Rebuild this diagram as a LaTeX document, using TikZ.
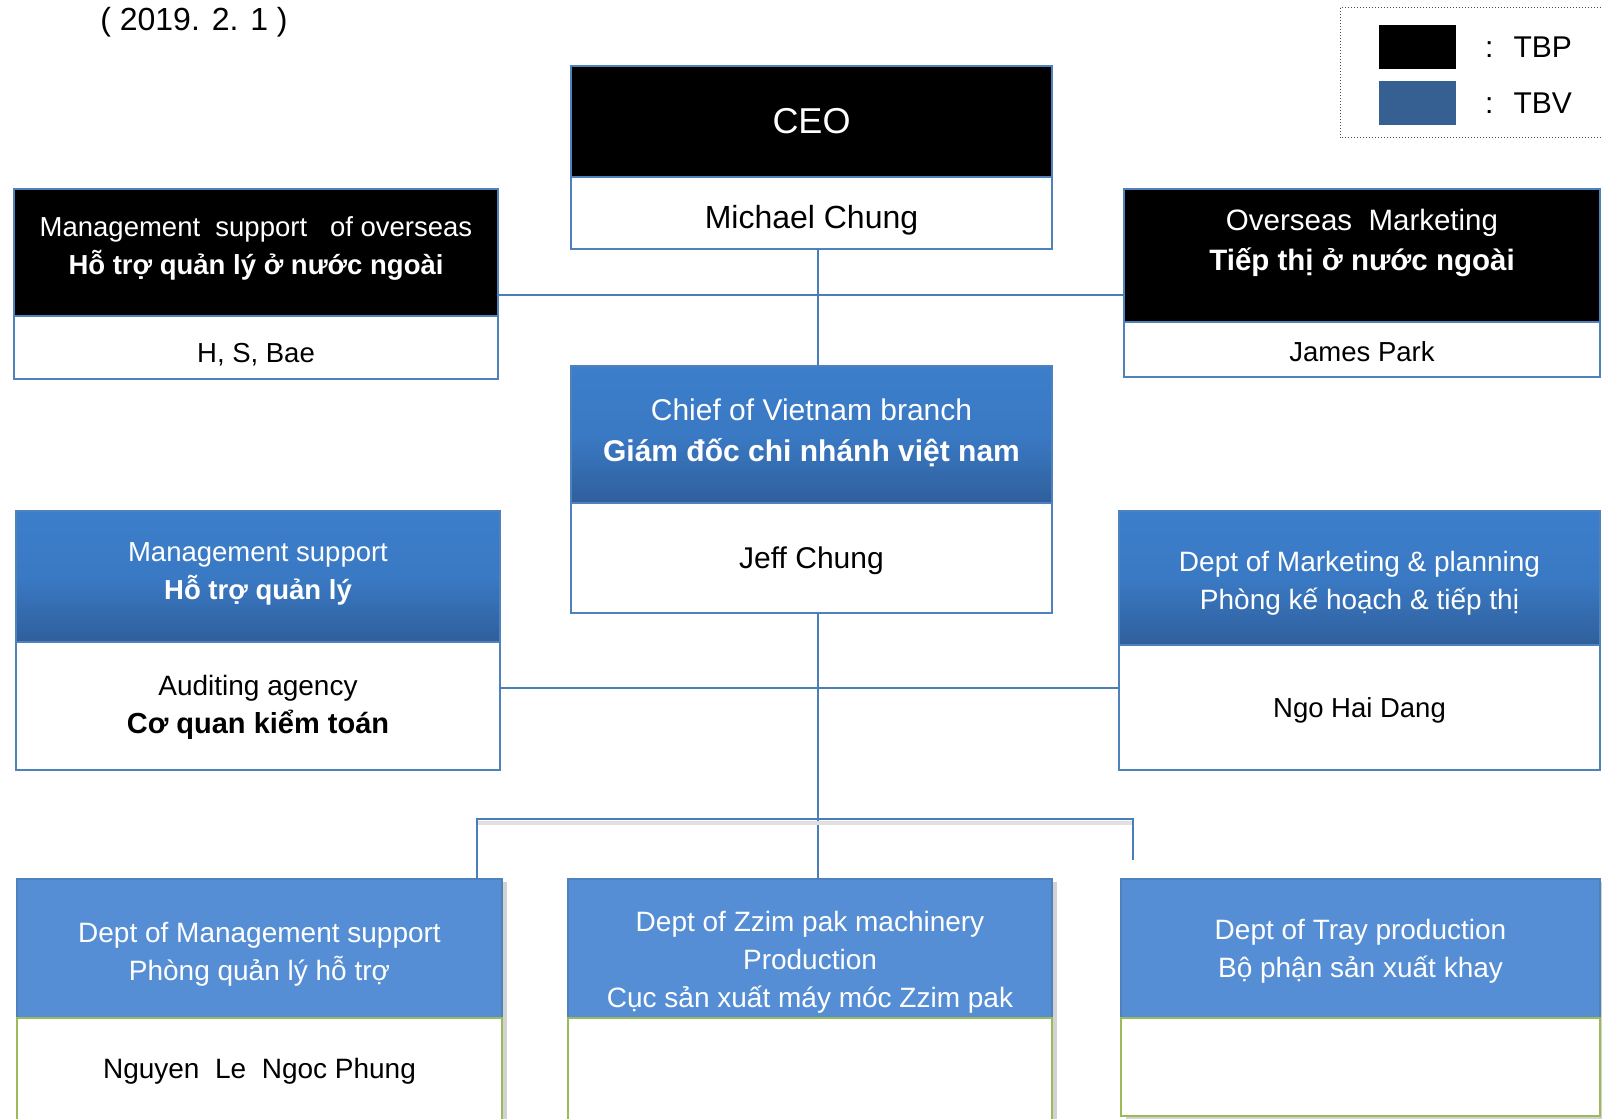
\documentclass[tikz,border=0pt]{standalone}
\usepackage{fontspec}
\setmainfont{Liberation Sans}
\usetikzlibrary{positioning,shadows}

\definecolor{frameblue}{HTML}{4F81BD}
\definecolor{lineblue}{HTML}{4A7EBB}
\definecolor{tbvtop}{HTML}{3C7ECB}
\definecolor{tbvbot}{HTML}{2F5F9C}
\definecolor{deptblue}{HTML}{558ED5}
\definecolor{legblue}{HTML}{376092}
\definecolor{namegreen}{HTML}{9BBB59}

\newcommand{\fsz}[1]{\fontsize{#1}{1.36\dimexpr#1pt\relax}\selectfont}
% text block, moved down by #1 pt inside its box
\newcommand{\vtxt}[2]{%
  \ifdim#1pt>0pt\rule{0pt}{\dimexpr1.05em+#1pt+#1pt\relax}\else\rule{0pt}{1.05em}\fi
  #2%
  \ifdim#1pt<0pt\rule[\dimexpr-0.33em+#1pt+#1pt\relax]{0pt}{\dimexpr0.33em-#1pt-#1pt\relax}\else\rule[-0.33em]{0pt}{0.33em}\fi}

\tikzset{
  box/.style 2 args={draw=frameblue, line width=2.2pt, anchor=north west,
    inner sep=0pt, outer sep=0pt, align=center,
    minimum width=#1pt, minimum height=#2pt},
  tbpbox/.style 2 args={box={#1}{#2}, fill=black, text=white},
  tbvbox/.style 2 args={box={#1}{#2}, top color=tbvtop, bottom color=tbvbot,
    middle color=tbvtop!85!tbvbot, text=white},
  deptbox/.style 2 args={box={#1}{#2}, fill=deptblue, text=white,
    drop shadow={shadow xshift=5pt, shadow yshift=-3pt, opacity=.35}},
  namebox/.style 2 args={box={#1}{#2}, fill=white, text=black},
  crewbox/.style 2 args={box={#1}{#2}, draw=namegreen, fill=white, text=black,
    drop shadow={shadow xshift=5pt, shadow yshift=-3pt, opacity=.35}},
  link/.style={draw=lineblue, line width=1.8pt},
  swatch/.style={anchor=north west, inner sep=0pt, outer sep=0pt,
    minimum width=77pt, minimum height=44pt}
}

\begin{document}
\begin{tikzpicture}[x=1pt,y=-1pt]
  \fill[white] (0,0) rectangle (1602,1118);
  \useasboundingbox (0,0) rectangle (1602,1118);

  % date
  \node[inner sep=0pt, font=\fsz{32}] (date) at (194,18.5) {\vtxt{0}{( 2019. 2. 1 )}};

  % legend
  \draw[dotted, line width=1pt, black!70] (1340,8) rectangle (1612,138);
  \node[swatch, fill=black] (tbpkey) at (1379,25) {};
  \node[swatch, fill=legblue] (tbvkey) at (1379,81) {};
  \node[right=29pt of tbpkey, inner sep=0pt, font=\fsz{30}] (tbplabel) {:\hspace{20pt}TBP};
  \node[right=29pt of tbvkey, inner sep=0pt, font=\fsz{30}] (tbvlabel) {:\hspace{20pt}TBV};

  % head office
  \node[tbpbox={481}{111}, font=\fsz{36}] (ceo) at (571,66) {\vtxt{-1}{CEO}};
  \node[namebox={481}{72}, below=0pt of ceo, font=\fsz{32}] (ceoname) {\vtxt{3.5}{Michael Chung}};

  \node[tbpbox={484}{127}, font=\fsz{27.5}] (ovm) at (14,189)
    {\vtxt{-7}{Management\ \ support\ \ \ of overseas\\\textbf{Hỗ trợ quản lý ở nước ngoài}}};
  \node[namebox={484}{63}, below=0pt of ovm, font=\fsz{27.5}] (ovmname) {\vtxt{5}{H, S, Bae}};

  \node[tbpbox={476}{133}, font=\fsz{29.5}] (ovk) at (1124,189)
    {\vtxt{-16}{Overseas\ \ Marketing\\\textbf{Tiếp thị ở nước ngoài}}};
  \node[namebox={476}{55}, below=0pt of ovk, font=\fsz{27.5}] (ovkname) {\vtxt{2}{James Park}};

  % vietnam branch
  \node[tbvbox={481}{137}, font=\fsz{30}] (chief) at (571,366)
    {\vtxt{-4.5}{Chief of Vietnam branch\\\textbf{Giám đốc chi nhánh việt nam}}};
  \node[namebox={481}{110}, below=0pt of chief, font=\fsz{30}] (chiefname) {\vtxt{0}{Jeff Chung}};

  \node[tbvbox={484}{131}, font=\fsz{27.5}] (mgs) at (16,511)
    {\vtxt{-6}{Management support\\\textbf{Hỗ trợ quản lý}}};
  \node[namebox={484}{128}, below=0pt of mgs, font=\fsz{28}] (mgsname)
    {\vtxt{-2}{Auditing agency\\\textbf{\fsz{29}Cơ quan kiểm toán}}};

  \node[tbvbox={481}{134}, font=\fsz{28}] (mkt) at (1119,511)
    {\vtxt{2.5}{Dept of Marketing \& planning\\Phòng kế hoạch \& tiếp thị}};
  \node[namebox={481}{125}, below=0pt of mkt, font=\fsz{27.5}] (mktname) {\vtxt{0.5}{Ngo Hai Dang}};

  % departments
  \node[deptbox={485}{139}, font=\fsz{28}] (dms) at (17,879)
    {\vtxt{2.5}{Dept of Management support\\Phòng quản lý hỗ trợ}};
  \node[crewbox={485}{110}, below=0pt of dms, font=\fsz{28}] (dmsname)
    {\vtxt{-5}{Nguyen\ \ Le\ \ Ngoc Phung}};

  \node[deptbox={484}{139}, font=\fsz{28}] (zzim) at (568,879)
    {\vtxt{11}{Dept of Zzim pak machinery\\Production\\Cục sản xuất máy móc Zzim pak}};
  \node[crewbox={484}{110}, below=0pt of zzim] (zzimname) {};

  \node[deptbox={479}{139}, font=\fsz{28}] (tray) at (1121,879)
    {\vtxt{0}{Dept of Tray production\\Bộ phận sản xuất khay}};
  \node[crewbox={479}{98}, below=0pt of tray] (trayname) {};

  % connectors
  \coordinate (trunk) at (818,0);
  \coordinate (topbar) at (818,295);
  \coordinate (midbar) at (818,688);
  \coordinate (lowbar) at (818,819);
  \coordinate (dmsdrop) at (477,0);
  \coordinate (trayend) at (1133,860);
  \draw[link] (trunk |- ceoname.south) -- (trunk |- chief.north);
  \draw[link] (ovm.east |- topbar) -- (ovk.west |- topbar);
  \draw[link] (trunk |- chiefname.south) -- (trunk |- zzim.north);
  \draw[link] (mgsname.east |- midbar) -- (mktname.west |- midbar);
  \draw[black!12, line width=4pt, transform canvas={yshift=-4pt}]
    (dmsdrop |- lowbar) -- (trayend |- lowbar); % bar shadow
  \draw[link] (dmsdrop |- dms.north) |- (trayend |- lowbar) -- (trayend);
\end{tikzpicture}
\end{document}
